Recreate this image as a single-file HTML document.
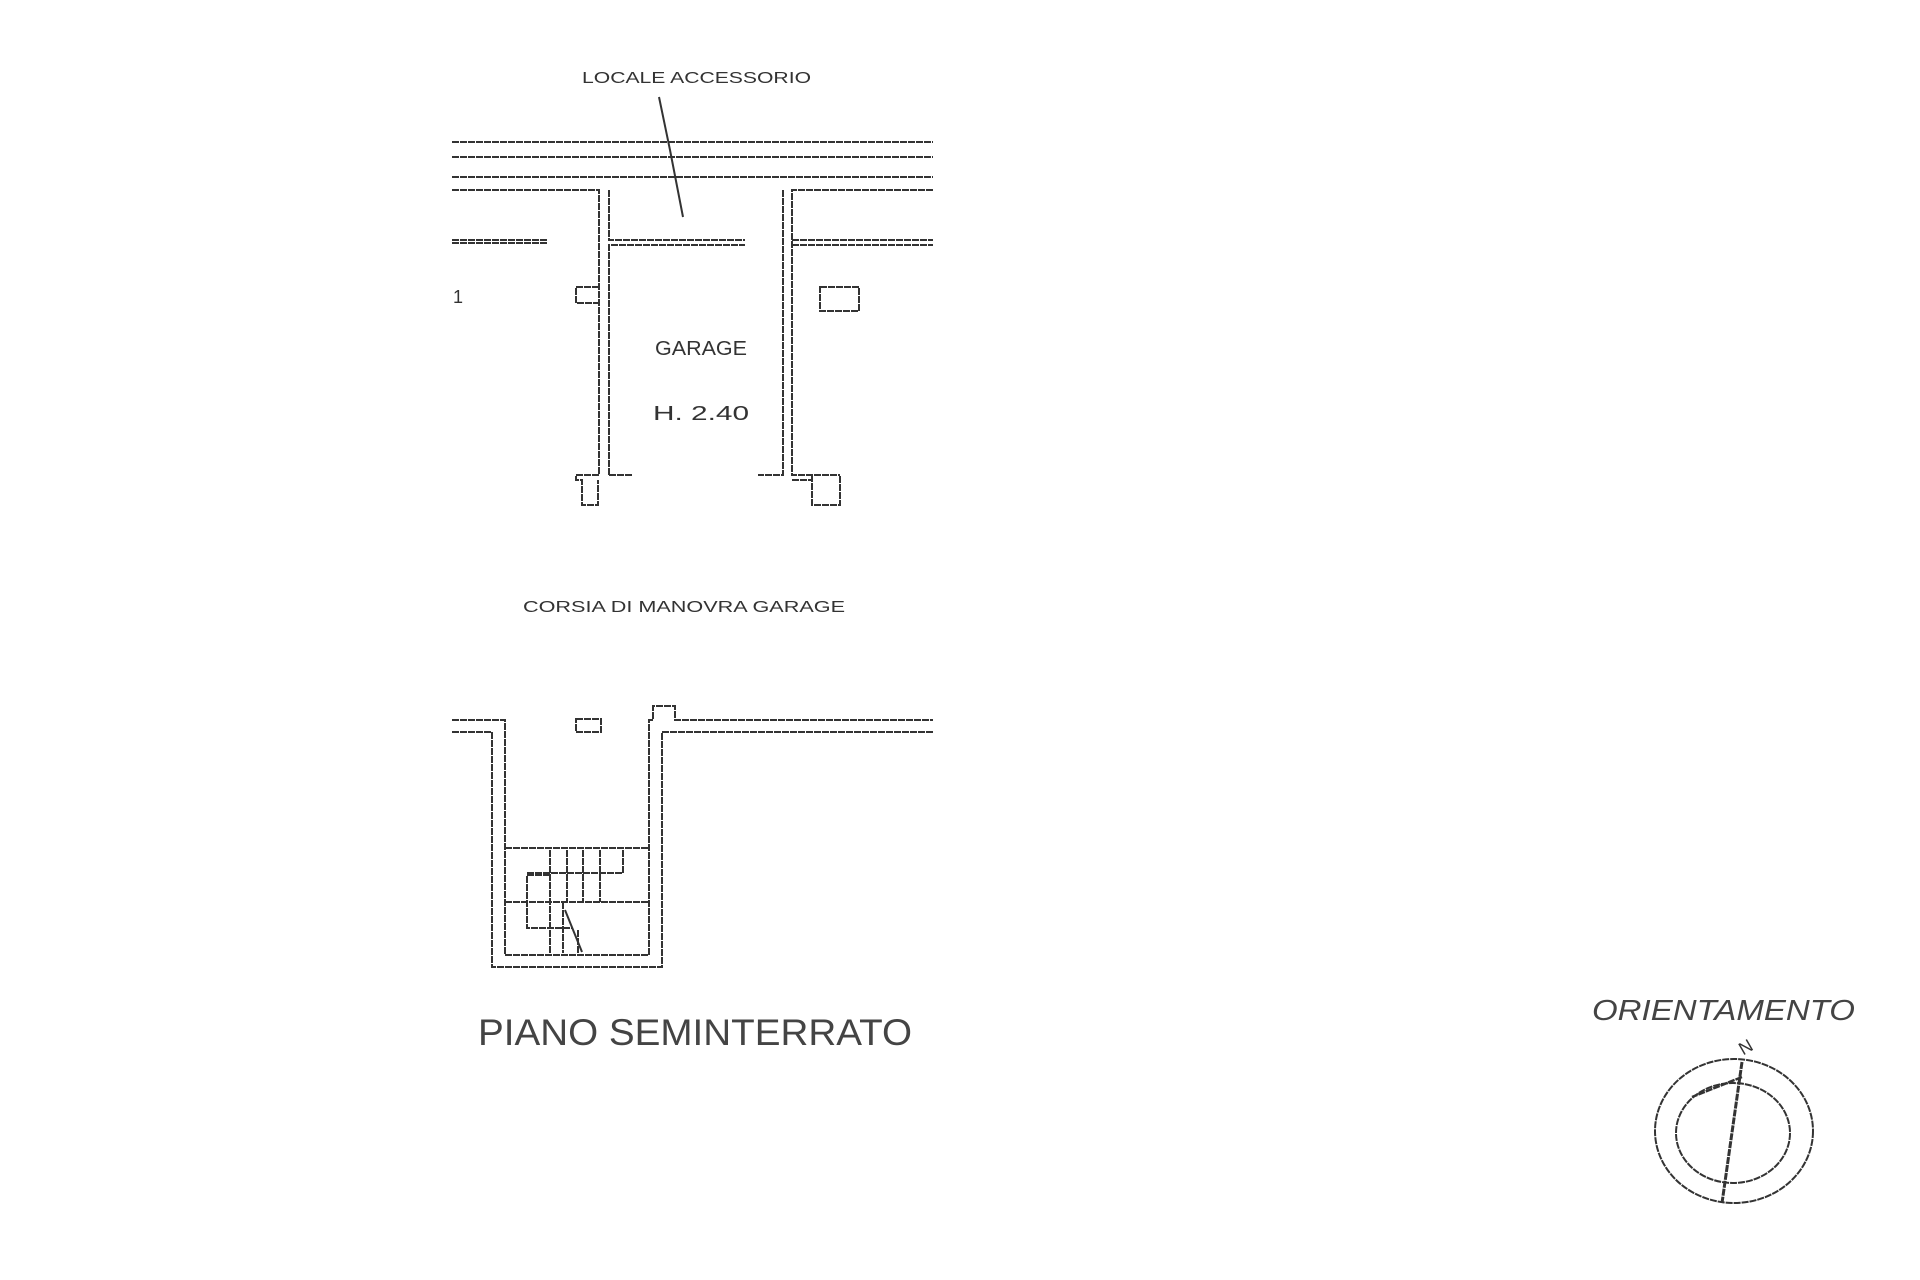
<!DOCTYPE html>
<html><head><meta charset="utf-8"><style>
html,body{margin:0;padding:0;background:#fff;}
svg{display:block}
text{font-family:"Liberation Sans",sans-serif;fill:#333;}
</style></head><body>
<svg width="1920" height="1280" viewBox="0 0 1920 1280" xmlns="http://www.w3.org/2000/svg">
<g stroke="#333" stroke-width="2" fill="none" stroke-dasharray="7 1">
<line x1="452" y1="142" x2="933" y2="142"/>
<line x1="452" y1="157" x2="933" y2="157"/>
<line x1="452" y1="177" x2="933" y2="177"/>
<polyline points="452,190 599,190 599,475"/>
<polyline points="933,190 792,190 792,475 840,475"/>
<polyline points="609,190 609,240 745,240"/>
<polyline points="783,190 783,475 758,475"/>
<polyline points="609,475 633,475"/>
<polyline points="609,475 609,245 745,245"/>
<line x1="792" y1="240" x2="933" y2="240"/>
<line x1="792" y1="245" x2="933" y2="245"/>
<line x1="452" y1="240" x2="548" y2="240"/>
<line x1="452" y1="243" x2="548" y2="243"/>
<polyline points="599,287 576,287 576,303 599,303"/>
<rect x="820" y="287" width="39" height="24"/>
<polyline points="599,475 576,475 576,480 582,480 582,505 598,505 598,480"/>
<polyline points="812,475 812,505 840,505 840,475"/>
<line x1="792" y1="480" x2="812" y2="480"/>
<polyline points="659,97 670,150 683,217" stroke-dasharray="none"/>
<polyline points="452,720 505,720 505,955 649,955 649,720 653,720 653,706 675,706 675,720 933,720"/>
<polyline points="452,732 492,732 492,967 662,967 662,732 933,732"/>
<rect x="576" y="719" width="25" height="13"/>
<line x1="505" y1="848" x2="649" y2="848"/>
<line x1="505" y1="902" x2="649" y2="902"/>
<line x1="550" y1="850" x2="550" y2="955"/>
<line x1="567" y1="850" x2="567" y2="902"/>
<line x1="583" y1="850" x2="583" y2="902"/>
<line x1="600" y1="850" x2="600" y2="902"/>
<line x1="623" y1="850" x2="623" y2="873"/>
<line x1="527" y1="873" x2="623" y2="873"/>
<polyline points="550,875 527,875 527,928 573,928"/>
<line x1="563" y1="902" x2="563" y2="953"/>
<line x1="578" y1="930" x2="578" y2="953"/>
<line x1="565" y1="910" x2="582" y2="952" stroke-dasharray="none"/>
<ellipse cx="1734" cy="1131" rx="79" ry="72"/>
<ellipse cx="1733" cy="1133" rx="57" ry="50"/>
<line x1="1742" y1="1062" x2="1722" y2="1203" stroke-width="3"/>
<line x1="1742" y1="1077" x2="1692" y2="1097" stroke-width="2.5"/>
</g>
<text x="582" y="83" font-size="16" textLength="229" lengthAdjust="spacingAndGlyphs">LOCALE ACCESSORIO</text>
<text x="453" y="303" font-size="18">1</text>
<text x="655" y="355" font-size="20" textLength="92" lengthAdjust="spacingAndGlyphs">GARAGE</text>
<text x="653" y="420" font-size="20" textLength="96" lengthAdjust="spacingAndGlyphs">H. 2.40</text>
<text x="523" y="612" font-size="16" textLength="322" lengthAdjust="spacingAndGlyphs">CORSIA DI MANOVRA GARAGE</text>
<text x="478" y="1045" font-size="37" textLength="434" lengthAdjust="spacingAndGlyphs" style="fill:#444">PIANO SEMINTERRATO</text>
<text x="1592" y="1020" font-size="29" font-style="italic" textLength="263" lengthAdjust="spacingAndGlyphs" style="fill:#444">ORIENTAMENTO</text>
<text x="1737" y="1053" font-size="18" transform="rotate(-30 1745 1043)">N</text>
</svg>
</body></html>
